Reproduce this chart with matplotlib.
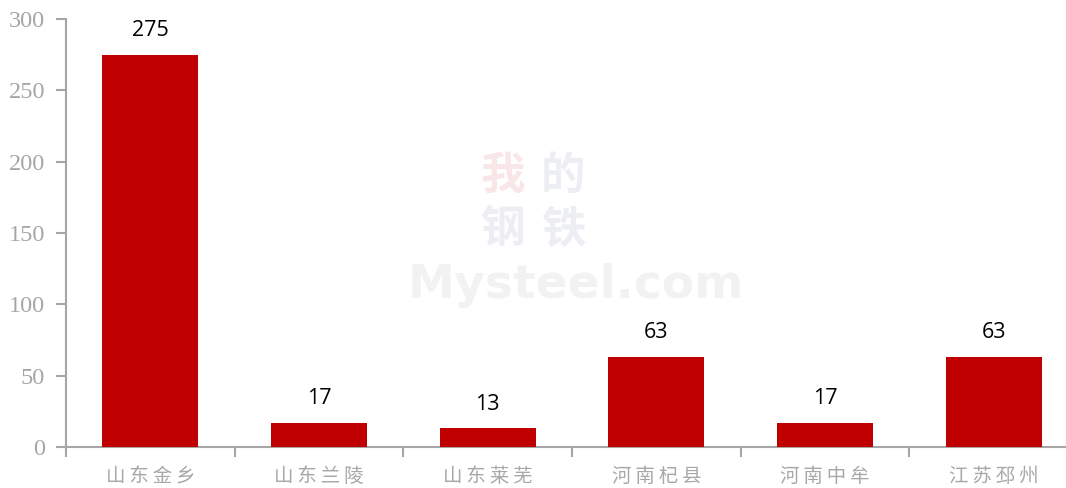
import matplotlib.pyplot as plt
import numpy as np

# data
regions = ['山东金乡', '山东兰陵', '山东莱芜', '河南杞县', '河南中牟', '江苏邳州']
values = [275, 17, 13, 63, 17, 63]
y_ticks = [0, 50, 100, 150, 200, 250, 300]

bar_color = '#C00000'
axis_color = '#A6A6A6'
tick_text = '#A6A6A6'

fig = plt.figure(figsize=(10.66, 4.88), dpi=100)
# axes runs past the right edge a little, like the original
ax = fig.add_axes([66 / 1066, 1 - 447 / 488, 1012 / 1066, 428 / 488])

x = np.arange(len(regions))
ax.bar(x, values, width=0.57, color=bar_color, zorder=3)

# value labels
for xi, v in zip(x, values):
    ax.annotate(str(v), (xi, v), xytext=(0, 10), textcoords='offset points',
                ha='center', va='bottom', fontsize=15.5, color='black',
                family=['Open Sans', 'DejaVu Sans'])

ax.set_xlim(-0.5, len(regions) - 0.5)
ax.set_ylim(0, 300)
ax.set_yticks(y_ticks)
ax.set_yticklabels([str(t) for t in y_ticks], family='Liberation Serif',
                   fontsize=17.5, color=tick_text)

# category labels between boundary ticks, spaced out a bit
ax.set_xticks(x)
ax.set_xticklabels(['\u2009'.join(r) for r in regions],
                   family=['Noto Sans CJK SC', 'DejaVu Sans'],
                   fontsize=14, color='#A8A8A8')
ax.tick_params(axis='x', which='major', length=0, pad=14)
ax.set_xticks(np.arange(len(regions) + 1) - 0.5, minor=True)
ax.tick_params(axis='x', which='minor', length=7, width=1.5, color=axis_color,
               direction='out')
ax.tick_params(axis='y', length=7, width=1.5, color=axis_color, direction='out',
               pad=8)

for side in ['top', 'right']:
    ax.spines[side].set_visible(False)
for side in ['left', 'bottom']:
    ax.spines[side].set_color(axis_color)
    ax.spines[side].set_linewidth(1.5)

# faint watermark
wm = dict(ha='center', va='center', transform=fig.transFigure, zorder=0)
fig.text(0.4715, 0.64, '我', fontsize=32, color='#F5D6D6', alpha=0.6,
         family='Noto Sans CJK SC', fontweight='bold', **wm)
fig.text(0.5285, 0.64, '的', fontsize=32, color='#E0E3EC', alpha=0.6,
         family='Noto Sans CJK SC', fontweight='bold', **wm)
fig.text(0.4715, 0.53, '钢', fontsize=32, color='#E0E3EC', alpha=0.6,
         family='Noto Sans CJK SC', fontweight='bold', **wm)
fig.text(0.5285, 0.53, '铁', fontsize=32, color='#E0E3EC', alpha=0.6,
         family='Noto Sans CJK SC', fontweight='bold', **wm)
fig.text(0.54, 0.415, 'Mysteel.com', fontsize=34, color='#F2F2F2',
         family='DejaVu Sans', fontweight='bold', **wm)

fig.savefig('out.png', dpi=100)
